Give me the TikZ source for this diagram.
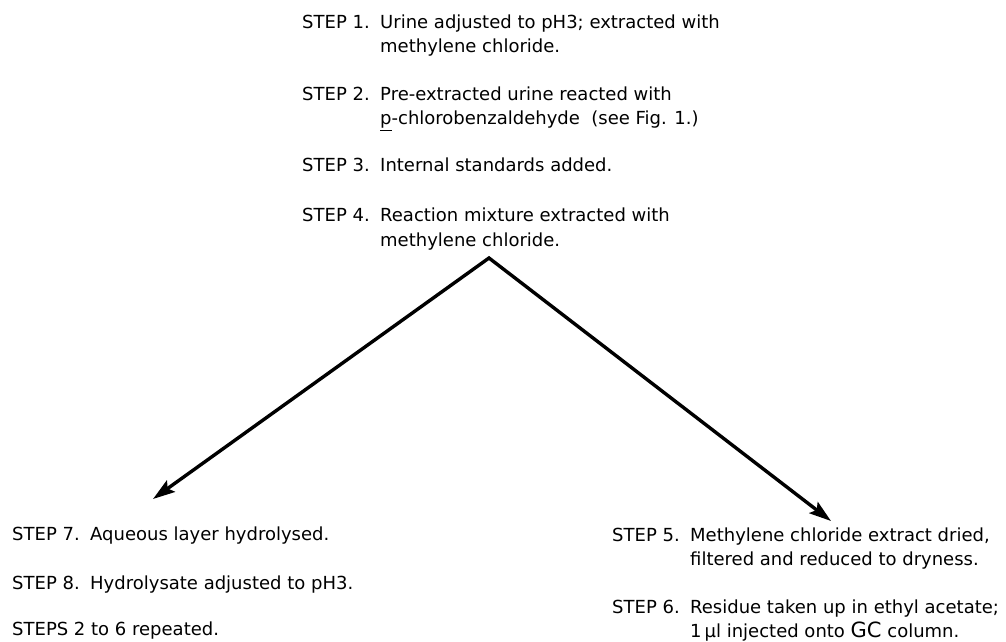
\documentclass[tikz,border=0pt]{standalone}
\usepackage{fontspec}
\setmainfont{DejaVu Sans}
\usetikzlibrary{arrows.meta}
\newcommand\stlab[1]{\makebox[78pt][l]{#1}}
\begin{document}
\begin{tikzpicture}[x=1pt,y=1pt,
  stepnode/.style={anchor=base west, inner sep=0pt, font=\fontsize{18}{24}\selectfont},
  flowarrow/.style={line width=3.4pt, line join=miter, {Stealth[length=22pt,width=14pt,inset=4pt]}-{Stealth[length=22pt,width=14pt,inset=4pt]}}]
\useasboundingbox (0,0) rectangle (1006,641);
\fill[white] (0,0) rectangle (1006,641);

\node[stepnode] (s1) at (302,612) {\begin{tabular}[t]{@{}l@{}l@{}}\stlab{STEP 1.} & Urine adjusted to pH3; extracted with\\ & methylene chloride.\end{tabular}};
\node[stepnode] (s2) at (302,540) {\begin{tabular}[t]{@{}l@{}l@{}}\stlab{STEP 2.} & Pre-extracted urine reacted with\\ & \underline{p}-chlorobenzaldehyde\ \ (see Fig. 1.)\end{tabular}};
\node[stepnode] (s3) at (302,469) {\begin{tabular}[t]{@{}l@{}l@{}}\stlab{STEP 3.} & Internal standards added.\end{tabular}};
\node[stepnode] (s4) at (302,419) {\begin{tabular}[t]{@{}l@{}l@{}}\stlab{STEP 4.} & Reaction mixture extracted with\\ & methylene chloride.\end{tabular}};

\node[stepnode] (s7) at (12,101) {\begin{tabular}[t]{@{}l@{}l@{}}\stlab{STEP 7.} & Aqueous layer hydrolysed.\end{tabular}};
\node[stepnode] (s8) at (12,52) {\begin{tabular}[t]{@{}l@{}l@{}}\stlab{STEP 8.} & Hydrolysate adjusted to pH3.\end{tabular}};
\node[stepnode] (s9) at (12,6) {STEPS 2 to 6 repeated.};

\node[stepnode] (s5) at (612,100) {\begin{tabular}[t]{@{}l@{}l@{}}\stlab{STEP 5.} & Methylene chloride extract dried,\\ & filtered and reduced to dryness.\end{tabular}};
\node[stepnode] (s6) at (612,28) {\begin{tabular}[t]{@{}l@{}l@{}}\stlab{STEP 6.} & Residue taken up in ethyl acetate;\\ & 1\,µl injected onto {\fontsize{21}{24}\selectfont GC} column.\end{tabular}};

\coordinate (apex) at (489,383);
\coordinate (tipL) at (153,142);
\coordinate (tipR) at (831,120);
\draw[flowarrow] (tipL) -- (apex) -- (tipR);
\end{tikzpicture}
\end{document}
